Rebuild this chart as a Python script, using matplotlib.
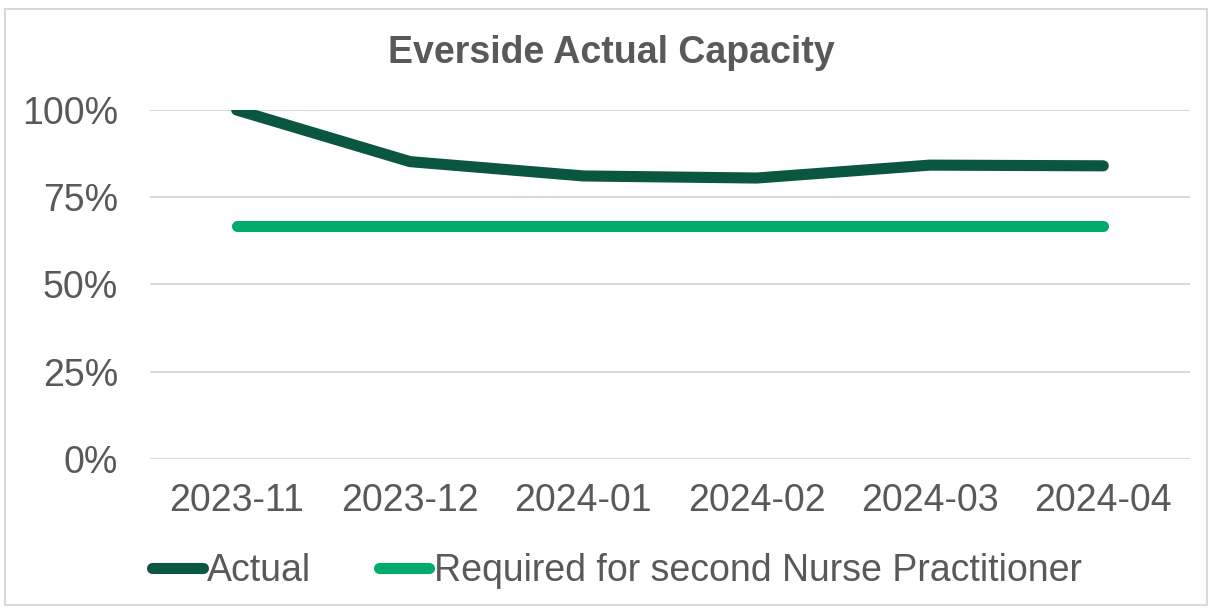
import matplotlib.pyplot as plt
from matplotlib.patches import Rectangle
from matplotlib.ticker import FuncFormatter

plt.rcParams["font.family"] = ["Liberation Sans", "DejaVu Sans"]

months = ["2023-11", "2023-12", "2024-01", "2024-02", "2024-03", "2024-04"]
actual = [1.00, 0.852, 0.811, 0.805, 0.842, 0.840]
required = [0.667, 0.667, 0.667, 0.667, 0.667, 0.667]
yticks = [0, 0.25, 0.5, 0.75, 1.0]

TEXT = "#595959"
DARK = "#0b5641"
LIGHT = "#00ab6c"
GRID = "#d9d9d9"
FS = 27

fig = plt.figure(figsize=(12.12, 6.11), dpi=100)
fig.patches.append(Rectangle((0.004, 0.01), 0.992, 0.975, transform=fig.transFigure,
                             fill=False, edgecolor=GRID, lw=1.5))
ax = fig.add_axes([0.1238, 0.2488, 0.858, 0.5712])

x = list(range(len(months)))
ax.plot(x, actual, color=DARK, lw=8, solid_capstyle="round", solid_joinstyle="round",
        label="Actual", zorder=3)
ax.plot(x, required, color=LIGHT, lw=8, solid_capstyle="round",
        label="Required for second Nurse Practitioner", zorder=3)

ax.set_xlim(-0.5, len(months) - 0.5)
ax.set_ylim(0, 1.0)
ax.set_yticks(yticks)
ax.yaxis.set_major_formatter(FuncFormatter(lambda v, _: f"{v:.0%}"))
ax.set_xticks(x)
ax.set_xticklabels(months)
for s in ax.spines.values():
    s.set_visible(False)
ax.grid(axis="y", color=GRID, lw=1.5)
ax.set_axisbelow(True)
ax.tick_params(axis="both", length=0, labelsize=FS, labelcolor=TEXT)
ax.tick_params(axis="x", pad=17)
ax.tick_params(axis="y", pad=23)

fig.text(0.504, 0.913, "Everside Actual Capacity", ha="center", va="center",
         fontsize=FS, fontweight="bold", color=TEXT)

fig.legend(loc="center", bbox_to_anchor=(0.509, 0.066), ncol=2, frameon=False,
           fontsize=FS, handlelength=1.35, handletextpad=0.12, columnspacing=1.8,
           labelcolor=TEXT)

fig.savefig("out.png", dpi=100)
